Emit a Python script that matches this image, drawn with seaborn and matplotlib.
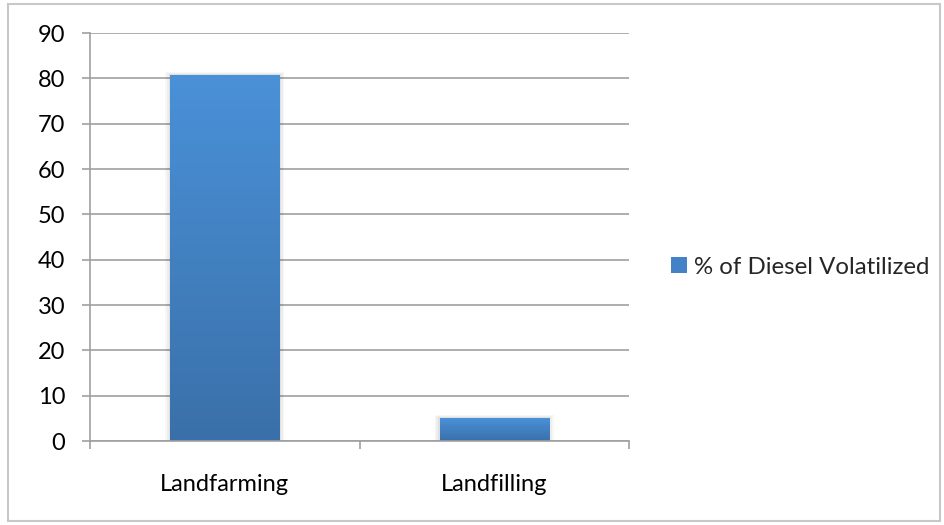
import numpy as np
import pandas as pd
import matplotlib
matplotlib.use("Agg")
import matplotlib.pyplot as plt
import seaborn as sns
from matplotlib.patches import Rectangle, Patch
from matplotlib.colors import LinearSegmentedColormap

categories = ["Landfarming", "Landfilling"]
values = [80.7, 5.0]
series_name = "% of Diesel Volatilized"
yticks = [0, 10, 20, 30, 40, 50, 60, 70, 80, 90]

sns.set_style("white")
plt.rcParams['font.family'] = ['Lato', 'DejaVu Sans']

fig = plt.figure(figsize=(9.45, 5.25), dpi=100)
ax = fig.add_axes([90/945, 1-441/525, (629-90)/945, (441-33)/525])

df = pd.DataFrame({"cat": categories, "val": values})
sns.barplot(data=df, x="cat", y="val", ax=ax, color="#4a8fd4", width=0.405, saturation=1)

cmap = LinearSegmentedColormap.from_list("g", ["#3a70a9", "#4a91d8"])
grad = np.linspace(0, 1, 256).reshape(-1, 1)
for p in list(ax.patches):
    x0, y0 = p.get_x(), p.get_y()
    w, h = p.get_width(), p.get_height()
    for i, a in enumerate([0.05, 0.04, 0.03]):
        d = 0.006 * (i + 1)
        sh = Rectangle((x0 - d, y0), w + 2 * d, h + 0.25 * (i + 1), facecolor="black",
                       alpha=a, edgecolor="none", zorder=1.5)
        ax.add_patch(sh)
    im = ax.imshow(grad, extent=[x0, x0 + w, y0, y0 + h], origin="lower", aspect="auto",
                   cmap=cmap, zorder=2.5)
    im.set_clip_path(p)
    p.set_zorder(2.4)
    p.set_edgecolor("none")

ax.set_xlim(-0.5, 1.5)
ax.set_ylim(0, 90)
ax.set_yticks(yticks)
ax.set_yticklabels([str(t) for t in yticks])
ax.set_xlabel("")
ax.set_ylabel("")
ax.yaxis.grid(True, color="#a0a0a0", linewidth=1.2)
ax.set_axisbelow(True)
for s in ["top", "right"]:
    ax.spines[s].set_visible(False)
for s in ["left", "bottom"]:
    ax.spines[s].set_color("#a0a0a0")
    ax.spines[s].set_linewidth(1.2)
ax.spines["bottom"].set_zorder(3)
ax.tick_params(axis="y", length=5.8, width=1.2, color="#a0a0a0", labelsize=17, pad=12, labelcolor="black", left=True)
ax.tick_params(axis="x", which="major", length=0, labelsize=17, pad=24, labelcolor="black")
ax.set_xticks([-0.5, 0.5, 1.5], minor=True)
ax.tick_params(axis="x", which="minor", length=5.8, width=1.2, color="#a0a0a0", bottom=True)

handle = Patch(facecolor="#4382c6", edgecolor="none")
fig.legend([handle], [series_name], loc="center left", bbox_to_anchor=(671/945, 1-267/525),
           frameon=False, fontsize=17.3, handlelength=0.65, handleheight=0.65, handletextpad=0.3,
           borderaxespad=0, borderpad=0)

fig.patches.append(Rectangle((8/945, 4/525), 932/945, 517/525, transform=fig.transFigure,
                             fill=False, edgecolor="#c8c8c8", linewidth=1.5, figure=fig))

fig.savefig("out.png", dpi=100)
